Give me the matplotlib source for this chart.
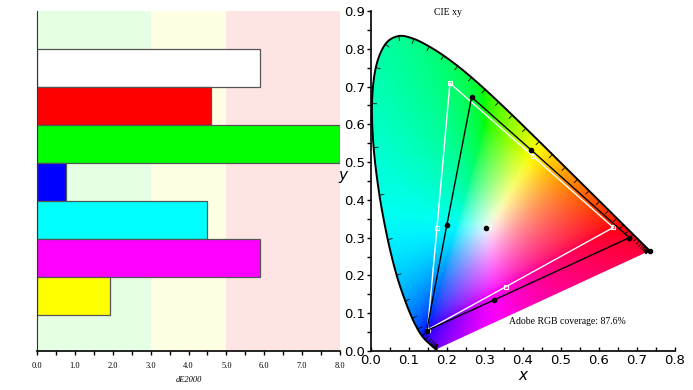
import numpy as np
import matplotlib
matplotlib.use("Agg")
import matplotlib.pyplot as plt
from matplotlib.patches import Polygon

# dE2000 bars (top to bottom)
patch_names = ['white', 'red', 'green', 'blue', 'cyan', 'magenta', 'yellow']
patch_colors = ['#ffffff', '#ff0000', '#00ff00', '#0000ff', '#00ffff', '#ff00ff', '#ffff00']
de2000 = [5.9, 4.6, 8.0, 0.76, 4.5, 5.9, 1.93]

# bands behind the bars
band_edges = [0, 3, 5, 8]
band_colors = ['#e4ffe4', '#ffffe4', '#ffe4e4']

# CIE 1931 spectral locus, 380-700 nm every 5 nm
locus_x = [0.1741, 0.1740, 0.1738, 0.1736, 0.1733, 0.1730, 0.1726, 0.1721, 0.1714, 0.1703,
           0.1689, 0.1669, 0.1644, 0.1611, 0.1566, 0.1510, 0.1440, 0.1355, 0.1241, 0.1096,
           0.0913, 0.0687, 0.0454, 0.0235, 0.0082, 0.0039, 0.0139, 0.0389, 0.0743, 0.1142,
           0.1547, 0.1929, 0.2296, 0.2658, 0.3016, 0.3373, 0.3731, 0.4087, 0.4441, 0.4788,
           0.5125, 0.5448, 0.5752, 0.6029, 0.6270, 0.6482, 0.6658, 0.6801, 0.6915, 0.7006,
           0.7079, 0.7140, 0.7190, 0.7230, 0.7260, 0.7283, 0.7300, 0.7311, 0.7320, 0.7327,
           0.7334, 0.7340, 0.7344, 0.7346, 0.7347]
locus_y = [0.0050, 0.0050, 0.0049, 0.0049, 0.0048, 0.0048, 0.0048, 0.0048, 0.0051, 0.0058,
           0.0069, 0.0086, 0.0109, 0.0138, 0.0177, 0.0227, 0.0297, 0.0399, 0.0578, 0.0868,
           0.1327, 0.2007, 0.2950, 0.4127, 0.5384, 0.6548, 0.7502, 0.8120, 0.8338, 0.8262,
           0.8059, 0.7816, 0.7543, 0.7243, 0.6923, 0.6589, 0.6245, 0.5896, 0.5547, 0.5202,
           0.4866, 0.4544, 0.4242, 0.3965, 0.3725, 0.3514, 0.3340, 0.3197, 0.3083, 0.2993,
           0.2920, 0.2859, 0.2809, 0.2770, 0.2740, 0.2717, 0.2700, 0.2689, 0.2680, 0.2673,
           0.2666, 0.2660, 0.2656, 0.2654, 0.2653]

# gamut points: R, Y, G, C, B, M  (closed back to R) + white point
ref_x = [0.639, 0.427, 0.209, 0.175, 0.150, 0.356]
ref_y = [0.327, 0.516, 0.709, 0.326, 0.056, 0.170]
ref_white = (0.3127, 0.329)
meas_x = [0.681, 0.423, 0.266, 0.201, 0.148, 0.325]
meas_y = [0.300, 0.532, 0.672, 0.334, 0.054, 0.135]
meas_white = (0.304, 0.326)

coverage = 87.6

serif = 'Liberation Serif'


def smooth_curve(xs, ys, sub=12):
    # catmull-rom through the locus points, just for a smooth outline
    p = np.column_stack([xs, ys])
    p = np.vstack([p[0], p, p[-1]])
    out = []
    t = np.linspace(0, 1, sub, endpoint=False)[:, None]
    for i in range(1, len(p) - 2):
        p0, p1, p2, p3 = p[i - 1], p[i], p[i + 1], p[i + 2]
        seg = 0.5 * ((2 * p1) + (-p0 + p2) * t + (2 * p0 - 5 * p1 + 4 * p2 - p3) * t ** 2
                     + (-p0 + 3 * p1 - 3 * p2 + p3) * t ** 3)
        out.append(seg)
    out.append(p[-2][None, :])
    out = np.vstack(out)
    return out[:, 0], out[:, 1]


fig = plt.figure(figsize=(6.93, 3.9), dpi=100)

# ---------- left: bar chart ----------
ax1 = fig.add_axes([37 / 693, 39 / 390, 303 / 693, 340 / 390])
for i in range(3):
    ax1.axvspan(band_edges[i], band_edges[i + 1], color=band_colors[i], lw=0, zorder=0)
pos = np.arange(len(de2000))[::-1]
ax1.barh(pos, de2000, height=1.0, color=patch_colors, edgecolor='#555555', lw=0.9, zorder=2)
ax1.set_xlim(0, 8)
ax1.set_ylim(-1.45, 7.5)
ax1.set_yticks([])
ax1.set_xticks(np.arange(0, 8.01, 1.0))
ax1.set_xticks(np.arange(0, 8.01, 0.5), minor=True)
ax1.set_xticklabels(['%.1f' % v for v in np.arange(0, 8.01, 1.0)], fontsize=6, family=serif)
ax1.tick_params(axis='x', which='both', length=3, width=1, pad=5)
ax1.spines['top'].set_visible(False)
ax1.spines['right'].set_visible(False)
ax1.spines['left'].set_color('#333333')
ax1.spines['bottom'].set_linewidth(1.2)
ax1.set_xlabel('dE2000', fontsize=6, family=serif, style='italic', labelpad=4)

# ---------- right: CIE xy ----------
ax2 = fig.add_axes([370.5 / 693, 39 / 390, 304 / 693, 340 / 390])
ax2.set_xlim(0, 0.8)
ax2.set_ylim(0, 0.9)

# colour fill of the diagram
n = 400
gx, gy = np.meshgrid(np.linspace(0, 0.8, n), np.linspace(0, 0.9, n))
gy_s = np.maximum(gy, 1e-4)
X = gx / gy_s
Y = np.ones_like(gx)
Z = (1 - gx - gy) / gy_s
M = np.array([[3.2406, -1.5372, -0.4986],
              [-0.9689, 1.8758, 0.0415],
              [0.0557, -0.2040, 1.0570]])
rgb = np.stack([X, Y, Z], axis=-1) @ M.T
rgb = rgb - np.minimum(rgb.min(axis=-1, keepdims=True), 0)
soft = np.power(np.sum(rgb ** 6, axis=-1, keepdims=True), 1 / 6)
rgb = rgb / np.maximum(soft, 1e-9) * 1.08
rgb = np.power(np.clip(rgb, 0, 1), 0.65)
im = ax2.imshow(rgb, origin='lower', extent=[0, 0.8, 0, 0.9], aspect='auto',
                interpolation='bilinear', zorder=1)

sx, sy = smooth_curve(locus_x, locus_y)
locus = Polygon(np.column_stack([sx, sy]), closed=True, facecolor='none',
                edgecolor='none', transform=ax2.transData)
ax2.add_patch(locus)
im.set_clip_path(locus)

ax2.plot(sx, sy, color='black', lw=1.4, zorder=3)

# wavelength ticks on the locus
lx = np.array(locus_x)
ly = np.array(locus_y)
for i in range(len(lx)):
    a = max(i - 1, 0)
    b = min(i + 1, len(lx) - 1)
    dx = lx[b] - lx[a]
    dy = ly[b] - ly[a]
    norm = np.hypot(dx, dy)
    if norm < 1e-3:
        continue
    nx, ny = dy / norm, -dx / norm
    ax2.plot([lx[i], lx[i] + nx * 0.012], [ly[i], ly[i] + ny * 0.012],
             color='black', lw=0.6, zorder=3, clip_on=False)

# gamut triangles
ax2.plot(ref_x + ref_x[:1], ref_y + ref_y[:1], color='white', lw=1.0, zorder=4,
         marker='s', ms=3.5, mfc='none', mec='white', mew=0.8)
ax2.plot([ref_white[0]], [ref_white[1]], marker='s', ms=3.5, mfc='none', mec='white',
         mew=0.8, zorder=4)
ax2.plot(meas_x + meas_x[:1], meas_y + meas_y[:1], color='black', lw=1.0, zorder=5,
         marker='o', ms=3, mfc='black', mec='black')
ax2.plot([meas_white[0]], [meas_white[1]], marker='o', ms=3, color='black', zorder=5)
ax2.plot([lx[-1]], [ly[-1]], marker='o', ms=3, color='black', zorder=5, clip_on=False)

ax2.text(0.205, 0.895, 'CIE xy', fontsize=7, family=serif, ha='center', va='center')
ax2.text(0.517, 0.077, 'Adobe RGB coverage: %.1f%%' % coverage, fontsize=7,
         family=serif, ha='center', va='center')

ax2.set_xticks(np.arange(0, 0.81, 0.1))
ax2.set_xticks(np.arange(0, 0.81, 0.05), minor=True)
ax2.set_yticks(np.arange(0, 0.91, 0.1))
ax2.set_yticks(np.arange(0, 0.91, 0.05), minor=True)
ax2.set_xticklabels(['%.1f' % v for v in np.arange(0, 0.81, 0.1)], fontsize=9.5)
ax2.set_yticklabels(['%.1f' % v for v in np.arange(0, 0.91, 0.1)], fontsize=9.5)
ax2.tick_params(axis='x', which='both', direction='in', length=3, width=1, pad=2)
ax2.tick_params(axis='y', which='both', direction='out', length=3, width=1, pad=1)
ax2.spines['top'].set_visible(False)
ax2.spines['right'].set_visible(False)
ax2.spines['left'].set_linewidth(1.2)
ax2.spines['bottom'].set_linewidth(1.2)
ax2.set_xlabel('x', fontsize=11, style='italic', labelpad=1)
ax2.set_ylabel('y', fontsize=11, style='italic', rotation=0, labelpad=6)
ax2.yaxis.set_label_coords(-0.09, 0.495)

fig.savefig('out.png', dpi=100)
